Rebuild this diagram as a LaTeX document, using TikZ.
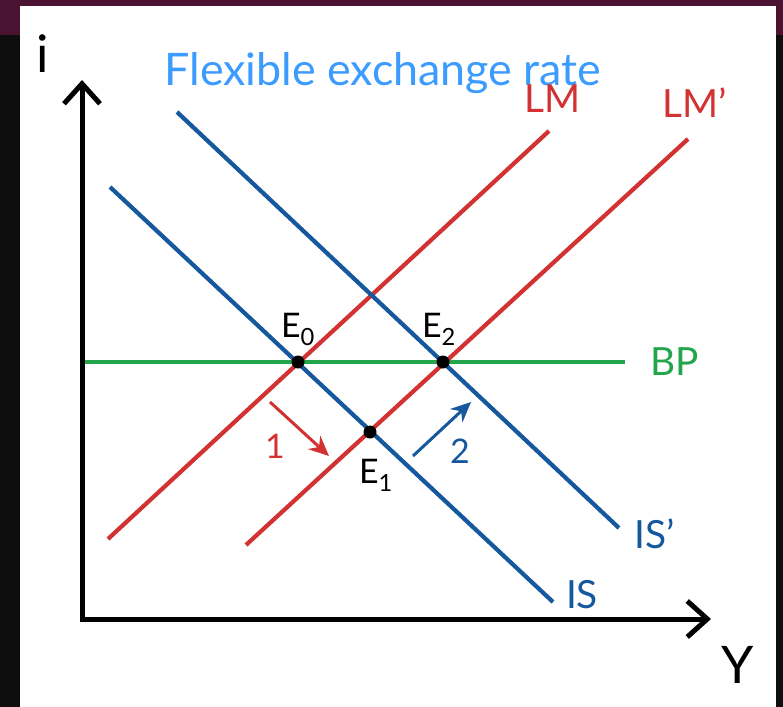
\documentclass[tikz,border=0pt]{standalone}
\usepackage{fontspec}
\setmainfont{Lato}
\usetikzlibrary{arrows.meta}
\definecolor{isblue}{RGB}{22,88,158}
\definecolor{lmred}{RGB}{210,50,50}
\definecolor{bpgreen}{RGB}{35,165,75}
\definecolor{titleblue}{RGB}{60,155,255}
\definecolor{framepurple}{RGB}{74,19,50}
\definecolor{frameblack}{RGB}{14,14,14}
\begin{document}
\begin{tikzpicture}[x=1bp,y=-1bp,
  curve/.style={line width=4.2bp},
  axisline/.style={line width=5bp,black,line join=miter},
  lbl/.style={inner sep=0pt,anchor=base,font=\fontsize{39}{44}\selectfont},
  elbl/.style={inner sep=0pt,anchor=base,font=\fontsize{34}{38}\selectfont},
  bigl/.style={inner sep=0pt,anchor=base,font=\fontsize{52}{58}\selectfont},
  eqdot/.style={circle,fill=black,inner sep=0pt,minimum size=13bp},
  shiftarrow/.style={line width=3bp,-{Stealth[length=20bp,width=18bp]}}]
\useasboundingbox (0,0) rectangle (783,707);
% frame
\fill[frameblack] (0,0) rectangle (783,707);
\fill[framepurple] (0,0) rectangle (783,35);
\fill[white] (20,6) rectangle (776,707);
% title
\node[bigl,titleblue,font=\fontsize{45}{50}\selectfont] (title) at (383,86) {Flexible exchange rate};
% axes
\coordinate (O) at (82,619);
\coordinate (ytop) at (82,80);
\coordinate (xend) at (711,619);
\draw[axisline,{Straight Barb[length=20bp,width=36bp]}-{Straight Barb[length=20bp,width=36bp]}] (ytop) -- (O) -- (xend);
\node[bigl] (ilbl) at (43,73) {i};
\node[bigl] (ylbl) at (738,683) {Y};
% curve end points
\coordinate (bp1) at (85,362);
\coordinate (bp2) at (625,362);
\coordinate (lm1) at (108,539);
\coordinate (lm2) at (549,131);
\coordinate (lmp1) at (246,545);
\coordinate (lmp2) at (688,139);
\coordinate (is1) at (110,187);
\coordinate (is2) at (553,602);
\coordinate (isp1) at (177,112);
\coordinate (isp2) at (619,528);
% curves
\draw[curve,bpgreen] (bp1) -- (bp2);
\draw[curve,lmred] (lm1) -- (lm2);
\draw[curve,lmred] (lmp1) -- (lmp2);
\draw[curve,isblue] (is1) -- (is2);
\draw[curve,isblue] (isp1) -- (isp2);
% curve labels
\node[lbl,bpgreen] (bplbl) at (675,375) {BP};
\node[lbl,lmred] (lmlbl) at (553,113) {LM};
\node[lbl,lmred] (lmplbl) at (695,118) {LM’};
\node[lbl,isblue] (isplbl) at (655,548) {IS’};
\node[lbl,isblue] (islbl) at (582,608) {IS};
% equilibria
\node[eqdot] (E0) at (298,362) {};
\node[eqdot] (E2) at (443,362) {};
\node[eqdot] (E1) at (370,432) {};
\node[elbl] (E0lbl) at (298,337) {E\textsubscript{0}};
\node[elbl] (E2lbl) at (439,337) {E\textsubscript{2}};
\node[elbl] (E1lbl) at (376,483) {E\textsubscript{1}};
% shift arrows
\coordinate (r1) at (270,402);
\coordinate (r2) at (329,456);
\coordinate (b1) at (413,456);
\coordinate (b2) at (471,402);
\draw[shiftarrow,lmred] (r1) -- (r2);
\draw[shiftarrow,isblue] (b1) -- (b2);
\node[elbl,lmred] (one) at (275,458) {1};
\node[elbl,isblue] (two) at (460,463) {2};
\end{tikzpicture}
\end{document}
